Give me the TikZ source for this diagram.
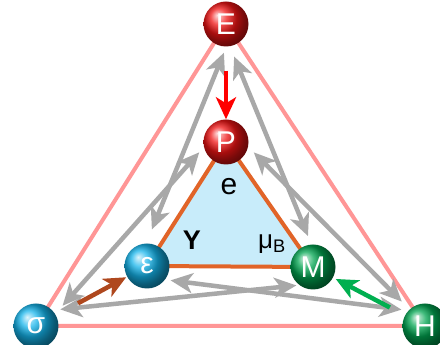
\documentclass[tikz,border=0pt]{standalone}
\usepackage{fontspec}
\setmainfont{Liberation Sans}
\usetikzlibrary{arrows.meta,backgrounds}
\definecolor{ballred}{RGB}{240,20,20}
\definecolor{ballblue}{RGB}{20,180,235}
\definecolor{ballgreen}{RGB}{0,165,80}
\definecolor{pinkline}{RGB}{255,150,150}
\definecolor{innerorange}{RGB}{225,100,40}
\definecolor{innerblue}{RGB}{200,236,250}
\definecolor{arrgray}{RGB}{168,168,168}
\definecolor{arrred}{RGB}{255,0,0}
\definecolor{arrbrown}{RGB}{175,72,30}
\definecolor{arrgreen}{RGB}{0,175,80}

\begin{document}
\begin{tikzpicture}[x=1pt,y=1pt,>={Stealth[length=22pt,width=20pt,inset=6pt]},
  ball/.style={circle,minimum size=45pt,inner sep=0pt,shading=ball,text=white,
    font=\fontsize{30}{30}\selectfont},
  redball/.style={ball,ball color=ballred},
  blueball/.style={ball,ball color=ballblue},
  greenball/.style={ball,ball color=ballgreen},
  grayarr/.style={<->,line width=4.5pt,draw=arrgray},
  colarr/.style={->,line width=4.5pt}]
\useasboundingbox (0,0) rectangle (440,345);
\node[redball] (E) at (226,321) {E};
\node[redball] (P) at (226,203) {P};
\node[blueball] (eps) at (147,79) {ε};
\node[greenball] (M) at (313,78) {M};
\node[blueball] (sig) at (36,19) {σ};
\node[greenball] (H) at (425,19) {H};
\node (lble) at (229,158) {\fontsize{30}{30}\selectfont e};
\node (lblY) at (192,105) {\fontsize{27}{27}\selectfont\bfseries Y};
\node (lblmu) at (272,101) {\fontsize{26}{26}\selectfont μ\textsubscript{B}};
\begin{scope}[on background layer]
\fill[white] (0,0) rectangle (440,345);
\draw[pinkline,line width=4pt] (E.center) -- (sig.center) -- (H.center) -- cycle;
\filldraw[fill=innerblue,draw=innerorange,line width=4pt] (P.center) -- (eps.center) -- (M.center) -- cycle;
\draw[grayarr,shorten <=6.5pt,shorten >=15pt] (E.-89) -- (eps.92);
\draw[grayarr,shorten <=11pt,shorten >=7pt] (sig.32) -- (P.193);
\draw[grayarr,shorten <=11pt,shorten >=9pt] (E.-80) -- (M.94);
\draw[grayarr,shorten <=8pt,shorten >=11pt] (P.-12) -- (H.133);
\draw[grayarr,shorten <=8pt,shorten >=3pt] (sig.44) -- (M.233);
\draw[grayarr,shorten <=5.5pt,shorten >=7pt] (eps.-37) -- (H.137);
\draw[colarr,draw=arrred,shorten <=24pt] (E.south) -- (P.north);
\draw[colarr,draw=arrbrown,shorten <=25pt,shorten >=1pt] (sig) -- (eps);
\draw[colarr,draw=arrgreen,shorten <=17pt,shorten >=3pt] (H) -- (M);
\end{scope}
\end{tikzpicture}
\end{document}
